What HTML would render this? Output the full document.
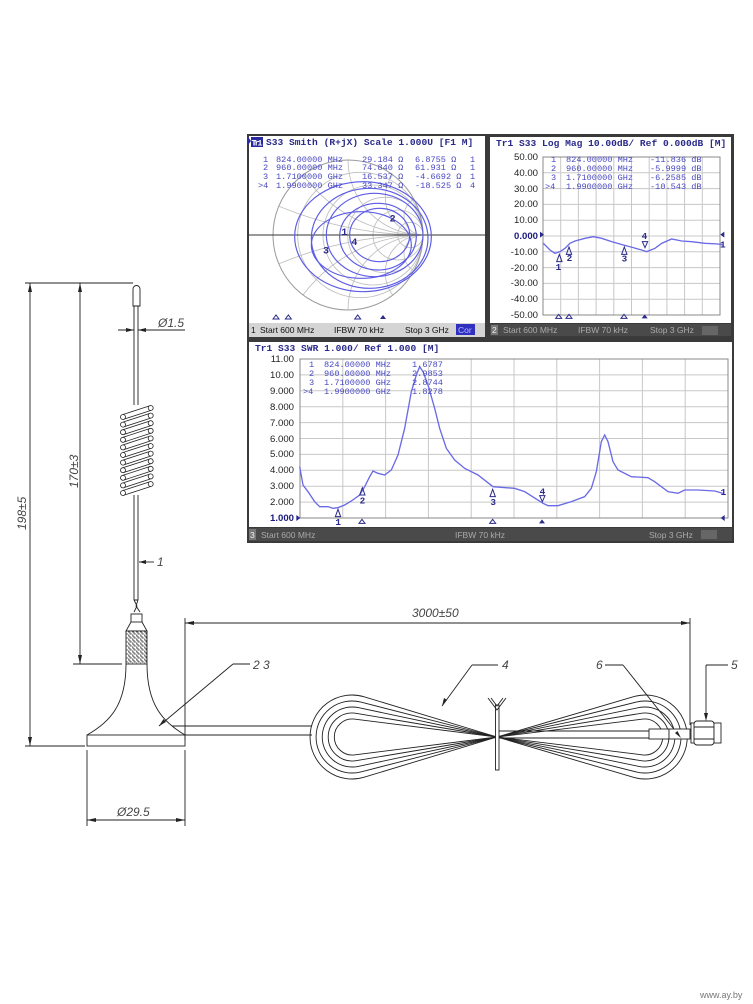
<!DOCTYPE html>
<html><head><meta charset="utf-8"><style>
html,body{margin:0;padding:0;background:#fff;}
svg{display:block;}
.m{font-family:"Liberation Mono",monospace;}
.s{font-family:"Liberation Sans",sans-serif;}
</style></head><body>
<svg width="753" height="1004" viewBox="0 0 753 1004" xmlns="http://www.w3.org/2000/svg">
<defs>
<pattern id="braid" width="4" height="4" patternUnits="userSpaceOnUse">
<rect width="4" height="4" fill="#fff"/>
<path d="M0 0h2v2h2M0 2v2h2" stroke="#333" stroke-width="0.8" fill="none"/>
</pattern>
<clipPath id="sc"><circle cx="300" cy="300" r="225"/></clipPath>
</defs>

<!-- ================= VNA BLOCK ================= -->
<rect x="247" y="134" width="487" height="409" fill="#3a3a3a"/>
<rect x="249" y="136" width="236" height="187" fill="#fff"/>
<rect x="249" y="323" width="236" height="14" fill="#d4d4d4"/>
<rect x="490" y="137" width="241" height="186" fill="#fff"/>
<rect x="490" y="324" width="241" height="12" fill="#4a4a4a"/>
<rect x="249" y="342" width="483" height="185" fill="#fff"/>
<rect x="249" y="528" width="483" height="13" fill="#4a4a4a"/>

<g transform="translate(248,135) scale(0.33333)">
 <g clip-path="url(#sc)" fill="none" stroke="#bdbdbd" stroke-width="2.5">
  <circle cx="337" cy="300" r="188"/>
  <circle cx="375" cy="300" r="150"/>
  <circle cx="412" cy="300" r="113"/>
  <circle cx="450" cy="300" r="75"/>
  <circle cx="487" cy="300" r="38"/>
  <circle cx="525" cy="75" r="225"/><circle cx="525" cy="525" r="225"/>
  <circle cx="525" cy="-150" r="450"/><circle cx="525" cy="750" r="450"/>
  <circle cx="525" cy="187" r="113"/><circle cx="525" cy="413" r="113"/>
  <circle cx="525" cy="-825" r="1125"/><circle cx="525" cy="1425" r="1125"/>
  <circle cx="525" cy="243" r="57"/><circle cx="525" cy="357" r="57"/>
 </g>
 <circle cx="300" cy="300" r="225" fill="none" stroke="#9a9a9a" stroke-width="3"/>
 <line x1="0" y1="300" x2="720" y2="300" stroke="#333" stroke-width="3"/>
 <g fill="none" stroke="#5c5ce6" stroke-width="3.5">
  <ellipse cx="345" cy="305" rx="205" ry="165"/>
  <ellipse cx="365" cy="310" rx="175" ry="150"/>
  <ellipse cx="380" cy="300" rx="145" ry="125"/>
  <ellipse cx="390" cy="305" rx="115" ry="100"/>
  <ellipse cx="395" cy="300" rx="90" ry="80"/>
  <ellipse cx="340" cy="330" rx="150" ry="100"/>
 </g>
 <g class="m" fill="#2a2a8a" font-size="30" font-weight="bold">
  <text x="280" y="300">1</text><text x="310" y="330">4</text>
  <text x="225" y="355">3</text><text x="425" y="260">2</text>
 </g>
 <g fill="none" stroke="#2a2a8a" stroke-width="3">
  <path d="M75 552l9-12 9 12z M112 552l9-12 9 12z M320 552l9-12 9 12z"/>
 </g>
 <path d="M396 552l9-12 9 12z" fill="#2a2a8a"/>
</g>
<rect x="251" y="137" width="12" height="10" fill="#2a2aa0"/>
<path d="M248 137l3 4-3 4z" fill="#2a2aa0"/>
<g class="m" font-size="9.6" font-weight="bold" fill="#2a2a8a">
 <text x="251.5" y="145.5" fill="#fff" font-size="8.5" textLength="11">Tr1</text>
 <text x="266" y="145">S33 Smith (R+jX) Scale 1.000U [F1 M]</text>
</g>
<g class="m" font-size="8.6" fill="#4848c0">
 <text x="263" y="162">1</text><text x="276" y="162">824.00000 MHz</text><text x="362" y="162">29.184 Ω</text><text x="415" y="162">6.8755 Ω</text><text x="470" y="162">1</text>
 <text x="263" y="170">2</text><text x="276" y="170">960.00000 MHz</text><text x="362" y="170">74.840 Ω</text><text x="415" y="170">61.931 Ω</text><text x="470" y="170">1</text>
 <text x="263" y="179">3</text><text x="276" y="179">1.7100000 GHz</text><text x="362" y="179">16.537 Ω</text><text x="415" y="179">-4.6692 Ω</text><text x="470" y="179">1</text>
 <text x="258" y="188">&gt;4</text><text x="276" y="188">1.9900000 GHz</text><text x="362" y="188">33.347 Ω</text><text x="415" y="188">-18.525 Ω</text><text x="470" y="188">4</text>
</g>
<g class="s" font-size="8.5" fill="#111">
 <text x="251" y="333">1</text><text x="260" y="333">Start 600 MHz</text>
 <text x="334" y="333">IFBW 70 kHz</text><text x="405" y="333">Stop 3 GHz</text>
</g>
<rect x="456" y="324" width="19" height="11" fill="#3030c0"/>
<text x="458" y="333" class="s" font-size="8.5" fill="#bbf">Cor</text>

<g stroke="#c8c8c8" stroke-width="1">
 <path d="M543 172.8H720M543 188.6H720M543 204.4H720M543 220.2H720M543 236H720M543 251.8H720M543 267.6H720M543 283.4H720M543 299.2H720"/>
 <path d="M560.7 157V315M578.4 157V315M596.1 157V315M613.8 157V315M631.5 157V315M649.2 157V315M666.9 157V315M684.6 157V315M702.3 157V315"/>
</g>
<rect x="543" y="157" width="177" height="158" fill="none" stroke="#888" stroke-width="1"/>
<g transform="translate(485,135) scale(0.33333)">
 <polyline fill="none" stroke="#6a6ae6" stroke-width="4" points="175,325 195,345 210,355 225,350 240,340 255,325 270,318 300,310 325,305 350,310 380,320 415,330 445,338 470,345 485,350 510,340 530,325 560,312 590,318 620,320 660,325 700,327 712,330"/>
 <g class="m" fill="#2a2a8a" font-size="28" font-weight="bold">
  <text x="212" y="405">1</text><text x="245" y="378">2</text><text x="410" y="380">3</text><text x="470" y="312">4</text><text x="705" y="338">1</text>
 </g>
 <g fill="none" stroke="#2a2a8a" stroke-width="3">
  <path d="M215 380l8-22 8 22z M244 358l8-22 8 22z M410 358l8-22 8 22z M472 320l8 18 8-18z"/>
  <path d="M212 550l9-12 9 12z M243 550l9-12 9 12z M408 550l9-12 9 12z"/>
 </g>
 <path d="M470 550l9-12 9 12z M165 290l12 9-12 9z M718 290l-12 9 12 9z" fill="#2a2a8a"/>
</g>
<g class="m" font-size="9.6" font-weight="bold" fill="#2a2a8a">
 <text x="496" y="146">Tr1 S33 Log Mag 10.00dB/ Ref 0.000dB [M]</text>
</g>
<g class="s" font-size="9.6" fill="#222" text-anchor="end">
 <text x="538" y="160">50.00</text><text x="538" y="176">40.00</text><text x="538" y="192">30.00</text><text x="538" y="207">20.00</text><text x="538" y="223">10.00</text>
 <text x="538" y="239" font-weight="bold" fill="#1a1a80">0.000</text><text x="538" y="255">-10.00</text><text x="538" y="271">-20.00</text><text x="538" y="286">-30.00</text><text x="538" y="302">-40.00</text><text x="538" y="318">-50.00</text>
</g>
<g class="m" font-size="8.6" fill="#4848c0">
 <text x="551" y="162">1</text><text x="566" y="162">824.00000 MHz</text><text x="650" y="162">-11.836 dB</text>
 <text x="551" y="171">2</text><text x="566" y="171">960.00000 MHz</text><text x="650" y="171">-5.9999 dB</text>
 <text x="551" y="180">3</text><text x="566" y="180">1.7100000 GHz</text><text x="650" y="180">-6.2585 dB</text>
 <text x="545" y="189">&gt;4</text><text x="566" y="189">1.9900000 GHz</text><text x="650" y="189">-10.543 dB</text>
</g>
<rect x="491" y="325" width="7" height="10" fill="#777"/>
<g class="s" font-size="8.5" fill="#aaa">
 <text x="492" y="333" fill="#eee">2</text><text x="503" y="333">Start 600 MHz</text>
 <text x="578" y="333">IFBW 70 kHz</text><text x="650" y="333">Stop 3 GHz</text>
</g>
<rect x="702" y="326" width="16" height="9" fill="#666"/>

<g stroke="#c8c8c8" stroke-width="1">
 <path d="M300 374.9H728M300 390.8H728M300 406.7H728M300 422.6H728M300 438.5H728M300 454.4H728M300 470.3H728M300 486.2H728M300 502.1H728"/>
 <path d="M342.8 359V518M385.6 359V518M428.4 359V518M471.2 359V518M514 359V518M556.8 359V518M599.6 359V518M642.4 359V518M685.2 359V518"/>
</g>
<rect x="300" y="359" width="428" height="159" fill="none" stroke="#888" stroke-width="1"/>
<g transform="translate(248,335) scale(0.33333)">
 <polyline fill="none" stroke="#6a6ae6" stroke-width="4" points="155,395 165,450 180,470 200,500 215,515 240,515 255,520 270,518 290,510 310,498 335,480 350,455 365,425 375,408 390,415 410,420 430,405 450,360 470,280 490,170 505,120 515,95 525,110 540,150 560,220 575,280 595,340 620,375 650,400 690,420 735,455 800,460 830,470 885,505 900,512 930,512 970,500 1010,485 1030,460 1045,410 1060,320 1070,300 1080,320 1095,380 1110,405 1150,425 1200,428 1220,440 1260,470 1290,475 1310,465 1350,465 1400,468 1425,475"/>
 <g class="m" fill="#2a2a8a" font-size="28" font-weight="bold">
  <text x="335" y="505">2</text><text x="727" y="510">3</text><text x="875" y="478">4</text><text x="1418" y="480">1</text><text x="262" y="570">1</text>
 </g>
 <g fill="none" stroke="#2a2a8a" stroke-width="3">
  <path d="M262 545l8-22 8 22z M335 480l8-22 8 22z M726 485l8-22 8 22z M875 482l8 18 8-18z"/>
  <path d="M333 565l9-12 9 12z M725 565l9-12 9 12z"/>
 </g>
 <path d="M873 565l9-12 9 12z M145 540l12 9-12 9z M1430 540l-12 9 12 9z" fill="#2a2a8a"/>
</g>
<g class="m" font-size="9.6" font-weight="bold" fill="#2a2a8a">
 <text x="255" y="351">Tr1 S33 SWR 1.000/ Ref 1.000 [M]</text>
</g>
<g class="s" font-size="9.6" fill="#222" text-anchor="end">
 <text x="294" y="362">11.00</text><text x="294" y="378">10.00</text><text x="294" y="394">9.000</text><text x="294" y="410">8.000</text><text x="294" y="426">7.000</text>
 <text x="294" y="442">6.000</text><text x="294" y="457">5.000</text><text x="294" y="473">4.000</text><text x="294" y="489">3.000</text><text x="294" y="505">2.000</text>
 <text x="294" y="521" font-weight="bold" fill="#1a1a80">1.000</text>
</g>
<g class="m" font-size="8.6" fill="#4848c0">
 <text x="309" y="367">1</text><text x="324" y="367">824.00000 MHz</text><text x="412" y="367">1.6787</text>
 <text x="309" y="376">2</text><text x="324" y="376">960.00000 MHz</text><text x="412" y="376">2.9853</text>
 <text x="309" y="385">3</text><text x="324" y="385">1.7100000 GHz</text><text x="412" y="385">2.8744</text>
 <text x="303" y="394">&gt;4</text><text x="324" y="394">1.9900000 GHz</text><text x="412" y="394">1.8278</text>
</g>
<rect x="249" y="529" width="7" height="11" fill="#777"/>
<g class="s" font-size="8.5" fill="#aaa">
 <text x="250" y="538" fill="#eee">3</text><text x="261" y="538">Start 600 MHz</text>
 <text x="455" y="538">IFBW 70 kHz</text><text x="649" y="538">Stop 3 GHz</text>
</g>
<rect x="701" y="530" width="16" height="9" fill="#666"/>

<!-- ================= DRAWING ================= -->
<g fill="none" stroke="#222" stroke-width="0.9">
 <path d="M25 283H133M30 283V746M25 746H85"/>
 <path d="M80 283V664M73 664H122"/>
 <path d="M133 306V289a3.5 3.5 0 0 1 7 0V306Z"/>
 <path d="M134 306V405M138 306V405M134 495V600M138 495V600"/>
 <path d="M118 330H134M138 330H185"/>
 <path d="M139 562H154"/>
 <path d="M134 600L137 606L134 612M138 600L136 606L140 612M134 600H138"/>
 <rect x="131" y="614" width="11" height="8"/>
 <path d="M131 622L126 631H147L142 622"/>
 <rect x="126" y="631" width="21" height="33" fill="url(#braid)"/>
 <path d="M126 664C126 705 110 722 87 735M147 664C147 705 163 722 185 735"/>
 <rect x="87" y="735" width="98" height="11"/>
 <path d="M87 750V826M185 750V826M87 820H185"/>
 <path d="M185 618V740M690 618V725M185 623H690"/>
 <path d="M172 726H185M185 726H312M185 735H312"/>
 <path d="M233 664H250M233 664L159 726"/>
 <path d="M472 665H498M472 665L442 706"/>
 <path d="M605 665H623M623 665L681 738"/>
 <path d="M706 665H728M706 665V719"/>
 <path d="M497 737L364.2 696.8A42 42 0 1 0 364.2 777.2L497 737L633.1 777.2A42 42 0 1 0 633.1 696.8Z"/>
 <path d="M497 737L360.9 702.1A36 36 0 1 0 360.9 771.9L497 737L636.2 771.9A36 36 0 1 0 636.2 702.1Z"/>
 <path d="M497 737L358.2 707.6A30 30 0 1 0 358.2 766.4L497 737L638.9 766.4A30 30 0 1 0 638.9 707.6Z"/>
 <path d="M497 737L356 713.3A24 24 0 1 0 356 760.7L497 737L641.1 760.7A24 24 0 1 0 641.1 713.3Z"/>
 <path d="M497 737L354.2 719.1A18 18 0 1 0 354.2 754.9L497 737L642.8 754.9A18 18 0 1 0 642.8 719.1Z"/>
 <path d="M497 731H649M497 738H649"/>
 <rect x="649" y="729" width="20" height="10" fill="#fff"/>
 <rect x="669" y="729" width="21" height="10" fill="#fff"/>
 <rect x="691" y="723" width="4" height="20" fill="#fff"/>
 <rect x="694" y="721" width="20" height="24" rx="3" fill="#fff"/>
 <path d="M694 727H714M694 739H714"/>
 <rect x="714" y="723" width="7" height="20" fill="#fff"/>
 <rect x="495.5" y="705" width="3.5" height="65" fill="#fff"/>
 <path d="M488 698L497 710L506 698M491 698L497 706L503 698"/>
</g>
<g fill="#fff" stroke="#222" stroke-width="0.8">
 <path d="M123 414.5L150.7 405.5M123 419.5L150.7 410.5M123 422.1L150.7 413.1M123 427.1L150.7 418.1M123 429.7L150.7 420.7M123 434.7L150.7 425.7M123 437.3L150.7 428.3M123 442.3L150.7 433.3M123 444.9L150.7 435.9M123 449.9L150.7 440.9M123 452.5L150.7 443.5M123 457.5L150.7 448.5M123 460.1L150.7 451.1M123 465.1L150.7 456.1M123 467.7L150.7 458.7M123 472.7L150.7 463.7M123 475.3L150.7 466.3M123 480.3L150.7 471.3M123 482.9L150.7 473.9M123 487.9L150.7 478.9M123 490.5L150.7 481.5M123 495.5L150.7 486.5"/>
 <circle cx="123" cy="417" r="2.5"/><circle cx="123" cy="424.6" r="2.5"/><circle cx="123" cy="432.2" r="2.5"/><circle cx="123" cy="439.8" r="2.5"/><circle cx="123" cy="447.4" r="2.5"/><circle cx="123" cy="455" r="2.5"/><circle cx="123" cy="462.6" r="2.5"/><circle cx="123" cy="470.2" r="2.5"/><circle cx="123" cy="477.8" r="2.5"/><circle cx="123" cy="485.4" r="2.5"/><circle cx="123" cy="493" r="2.5"/>
 <circle cx="150.7" cy="408" r="2.5"/><circle cx="150.7" cy="415.6" r="2.5"/><circle cx="150.7" cy="423.2" r="2.5"/><circle cx="150.7" cy="430.8" r="2.5"/><circle cx="150.7" cy="438.4" r="2.5"/><circle cx="150.7" cy="446" r="2.5"/><circle cx="150.7" cy="453.6" r="2.5"/><circle cx="150.7" cy="461.2" r="2.5"/><circle cx="150.7" cy="468.8" r="2.5"/><circle cx="150.7" cy="476.4" r="2.5"/><circle cx="150.7" cy="484" r="2.5"/>
</g>
<g fill="#222">
 <path d="M30 283l-2 9h4zM30 746l-2-9h4z"/>
 <path d="M80 283l-2 9h4zM80 664l-2-9h4z"/>
 <path d="M134 330l-8-2v4zM138 330l8-2v4z"/>
 <path d="M139 562l7-2v4z"/>
 <path d="M87 820l9-2v4zM185 820l-9-2v4z"/>
 <path d="M185 623l9-2v4zM690 623l-9-2v4z"/>
 <path d="M159 726l4.5-7 2.5 3z"/>
 <path d="M442 706l2-8 3 2z"/>
 <path d="M681 738l-6-5 2.5-2z"/>
 <path d="M706 721l-2-8h4z"/>
</g>
<g class="s" font-style="italic" font-size="12" fill="#444">
 <text transform="translate(26,530) rotate(-90)">198±5</text>
 <text transform="translate(78,488) rotate(-90)">170±3</text>
 <text x="158" y="327">Ø1.5</text>
 <text x="157" y="566">1</text>
 <text x="117" y="816">Ø29.5</text>
 <text x="412" y="617">3000±50</text>
 <text x="253" y="669">2  3</text>
 <text x="502" y="669">4</text>
 <text x="596" y="669">6</text>
 <text x="731" y="669">5</text>
</g>
<text x="700" y="998" class="s" font-size="9" fill="#777">www.ay.by</text>
</svg>
</body></html>
